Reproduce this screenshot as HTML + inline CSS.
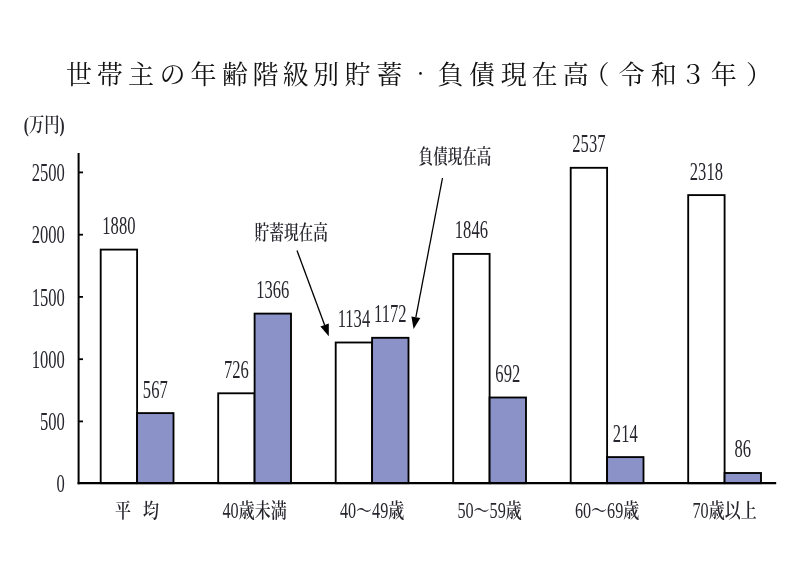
<!DOCTYPE html>
<html lang="ja"><head><meta charset="utf-8"><title>世帯主の年齢階級別貯蓄・負債現在高</title>
<style>
html,body{margin:0;padding:0;background:#fff;}
svg{display:block;}
#chart{filter:blur(0.4px);}
.num{font-family:"Liberation Serif",serif;font-size:25.5px;fill:#26262e;}
.kj{font-family:"Liberation Serif","Noto Serif CJK JP","Noto Serif CJK SC",serif;}
.title{font-size:26px;fill:#111;font-weight:400;}
.lab{font-size:20.5px;font-weight:600;fill:#26262e;}
</style></head><body>
<svg width="800" height="572" viewBox="0 0 800 572">
<rect width="800" height="572" fill="#fff"/>

<g class="kj title" style="filter:blur(0.25px)">
<text x="66.0 96.7 128.1 159.6 190.4 222.0 252.6 282.8 313.1 344.6 376.5 413.1 437.6 469.0 500.8 531.4 562.7 583.4 618.6 650.8 680.0 710.7 745.9" y="84 84 84 84 84 84 84 84 84 84 84 78.5 84 84 84 84 84 84 84 84 84 84 84">世帯主の年齢階級別貯蓄<tspan font-size="15">・</tspan>負債現在高（令和３年）</text>
</g>
<g id="chart">
<text class="kj" transform="translate(23.8,131.5) scale(0.765,1)" font-size="20" font-weight="600" fill="#26262e">(万円)</text>
<rect x="100.7" y="249.6" width="36.4" height="233.6" fill="#fff" stroke="#000" stroke-width="1.85"/>
<rect x="137.1" y="413.1" width="36.4" height="70.1" fill="#8B92C8" stroke="#000" stroke-width="1.85"/>
<rect x="218.2" y="393.3" width="36.4" height="89.9" fill="#fff" stroke="#000" stroke-width="1.85"/>
<rect x="254.6" y="313.6" width="36.4" height="169.6" fill="#8B92C8" stroke="#000" stroke-width="1.85"/>
<rect x="335.7" y="342.5" width="36.4" height="140.7" fill="#fff" stroke="#000" stroke-width="1.85"/>
<rect x="372.1" y="337.8" width="36.4" height="145.4" fill="#8B92C8" stroke="#000" stroke-width="1.85"/>
<rect x="453.2" y="253.9" width="36.4" height="229.3" fill="#fff" stroke="#000" stroke-width="1.85"/>
<rect x="489.6" y="397.5" width="36.4" height="85.7" fill="#8B92C8" stroke="#000" stroke-width="1.85"/>
<rect x="570.7" y="167.8" width="36.4" height="315.4" fill="#fff" stroke="#000" stroke-width="1.85"/>
<rect x="607.1" y="457.1" width="36.4" height="26.1" fill="#8B92C8" stroke="#000" stroke-width="1.85"/>
<rect x="688.2" y="195.1" width="36.4" height="288.1" fill="#fff" stroke="#000" stroke-width="1.85"/>
<rect x="724.6" y="473.0" width="36.4" height="10.2" fill="#8B92C8" stroke="#000" stroke-width="1.85"/>
<path d="M78.6 153V484.3" stroke="#000" stroke-width="2" fill="none"/><path d="M77.6 483.2H776.2" stroke="#000" stroke-width="2.3" fill="none"/>
<path d="M78.6 421.4H83" stroke="#000" stroke-width="1.8"/>
<path d="M78.6 359.2H83" stroke="#000" stroke-width="1.8"/>
<path d="M78.6 296.9H83" stroke="#000" stroke-width="1.8"/>
<path d="M78.6 234.7H83" stroke="#000" stroke-width="1.8"/>
<path d="M78.6 172.4H83" stroke="#000" stroke-width="1.8"/>
<text class="num" text-anchor="end" transform="translate(64.9,492.3) scale(0.65,1)">0</text>
<text class="num" text-anchor="end" transform="translate(64.9,430.1) scale(0.65,1)">500</text>
<text class="num" text-anchor="end" transform="translate(64.9,367.8) scale(0.65,1)">1000</text>
<text class="num" text-anchor="end" transform="translate(64.9,305.6) scale(0.65,1)">1500</text>
<text class="num" text-anchor="end" transform="translate(64.9,243.3) scale(0.65,1)">2000</text>
<text class="num" text-anchor="end" transform="translate(64.9,181.0) scale(0.65,1)">2500</text>
<text class="num" text-anchor="middle" transform="translate(118.9,234.0) scale(0.65,1)">1880</text>
<text class="num" text-anchor="middle" transform="translate(155.3,397.5) scale(0.65,1)">567</text>
<text class="num" text-anchor="middle" transform="translate(236.4,377.7) scale(0.65,1)">726</text>
<text class="num" text-anchor="middle" transform="translate(272.8,298.0) scale(0.65,1)">1366</text>
<text class="num" text-anchor="middle" transform="translate(353.9,326.9) scale(0.65,1)">1134</text>
<text class="num" text-anchor="middle" transform="translate(390.3,322.2) scale(0.65,1)">1172</text>
<text class="num" text-anchor="middle" transform="translate(471.4,238.3) scale(0.65,1)">1846</text>
<text class="num" text-anchor="middle" transform="translate(507.8,381.9) scale(0.65,1)">692</text>
<text class="num" text-anchor="middle" transform="translate(588.9,152.2) scale(0.65,1)">2537</text>
<text class="num" text-anchor="middle" transform="translate(625.3,441.5) scale(0.65,1)">214</text>
<text class="num" text-anchor="middle" transform="translate(706.4,179.5) scale(0.65,1)">2318</text>
<text class="num" text-anchor="middle" transform="translate(742.8,457.4) scale(0.65,1)">86</text>
<text class="kj lab" transform="translate(115.1,517.5) scale(0.78,1)">平</text>
<text class="kj lab" transform="translate(143.1,517.5) scale(0.78,1)">均</text>
<text class="num" style="font-size:24px" transform="translate(222.5,517.6) scale(0.675,1)">40</text>
<text class="kj lab" transform="translate(238.7,517.5) scale(0.78,1)">歳未満</text>
<text class="num" style="font-size:24px" transform="translate(339.9,517.6) scale(0.675,1)">40</text>
<text class="kj lab" transform="translate(356.1,517.5) scale(0.78,1)">～</text>
<text class="num" style="font-size:24px" transform="translate(372.1,517.6) scale(0.675,1)">49</text>
<text class="kj lab" transform="translate(388.3,517.5) scale(0.78,1)">歳</text>
<text class="num" style="font-size:24px" transform="translate(457.4,517.6) scale(0.675,1)">50</text>
<text class="kj lab" transform="translate(473.6,517.5) scale(0.78,1)">～</text>
<text class="num" style="font-size:24px" transform="translate(489.6,517.6) scale(0.675,1)">59</text>
<text class="kj lab" transform="translate(505.8,517.5) scale(0.78,1)">歳</text>
<text class="num" style="font-size:24px" transform="translate(574.9,517.6) scale(0.675,1)">60</text>
<text class="kj lab" transform="translate(591.1,517.5) scale(0.78,1)">～</text>
<text class="num" style="font-size:24px" transform="translate(607.1,517.6) scale(0.675,1)">69</text>
<text class="kj lab" transform="translate(623.3,517.5) scale(0.78,1)">歳</text>
<text class="num" style="font-size:24px" transform="translate(692.5,517.6) scale(0.675,1)">70</text>
<text class="kj lab" transform="translate(708.7,517.5) scale(0.78,1)">歳以上</text>
<text class="kj lab" transform="translate(254.6,240) scale(0.715,1)">貯蓄現在高</text>
<text class="kj lab" transform="translate(418.6,164) scale(0.71,1)">負債現在高</text>
<path d="M297.0 250.4L324.6 324.9" stroke="#000" stroke-width="1.3"/>
<path d="M328.8 336.2L320.4 326.5L328.8 323.4Z" fill="#000"/>
<path d="M442.5 178.0L415.9 317.2" stroke="#000" stroke-width="1.3"/>
<path d="M413.6 329.0L411.4 316.4L420.3 318.1Z" fill="#000"/>
</g></svg></body></html>
